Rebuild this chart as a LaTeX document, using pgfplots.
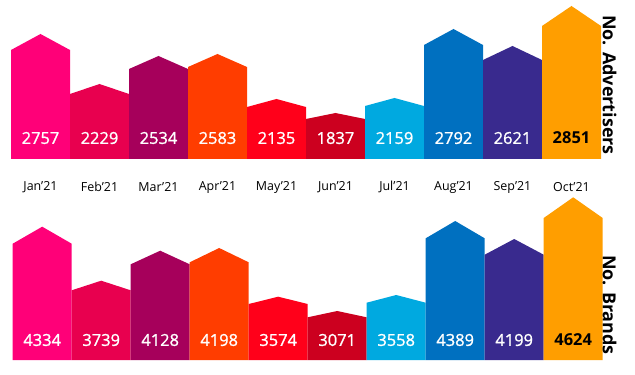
\documentclass[border=0pt]{standalone}
\usepackage{pgfplots}
\pgfplotsset{compat=1.18}
\usepackage{fontspec}
\setmainfont{Open Sans}
\newfontfamily\semifont{Open Sans}[FakeBold=1.2]
\definecolor{cJan}{HTML}{FF0078}
\definecolor{cFeb}{HTML}{E8004F}
\definecolor{cMar}{HTML}{A6005B}
\definecolor{cApr}{HTML}{FF3D00}
\definecolor{cMay}{HTML}{FF001A}
\definecolor{cJun}{HTML}{CC001F}
\definecolor{cJul}{HTML}{00A9E0}
\definecolor{cAug}{HTML}{0070C0}
\definecolor{cSep}{HTML}{392A8E}
\definecolor{cOct}{HTML}{FF9E00}
\pgfplotsset{
  house/.style={fill=#1, draw=none, mark=none},
}
\tikzset{
  vlab/.style={text=white, font=\semifont\fontsize{16.5}{18}\selectfont},
  vlabk/.style={text=black, font=\bfseries\fontsize{16.5}{18}\selectfont},
  mlab/.style={text=black, font=\fontsize{12.5}{14}\selectfont},
}
\begin{document}
\begin{tikzpicture}
\useasboundingbox (0,0) rectangle (635bp,375bp);
% ---------- Advertisers ----------
\begin{axis}[at={(11bp,216bp)}, anchor=south west, scale only axis,
  width=590bp, height=159bp, xmin=-0.5, xmax=9.5, ymin=0, ymax=159,
  hide axis, clip=false]
\addplot[house=cJan] coordinates {(-0.5,0) (-0.5,109) (0,125) (0.5,109) (0.5,0)};
\addplot[house=cFeb] coordinates {(0.5,0) (0.5,65) (1,75) (1.5,65) (1.5,0)};
\addplot[house=cMar] coordinates {(1.5,0) (1.5,90) (2,103) (2.5,90) (2.5,0)};
\addplot[house=cApr] coordinates {(2.5,0) (2.5,92) (3,105) (3.5,92) (3.5,0)};
\addplot[house=cMay] coordinates {(3.5,0) (3.5,52) (4,60) (4.5,52) (4.5,0)};
\addplot[house=cJun] coordinates {(4.5,0) (4.5,40) (5,46) (5.5,40) (5.5,0)};
\addplot[house=cJul] coordinates {(5.5,0) (5.5,53) (6,61) (6.5,53) (6.5,0)};
\addplot[house=cAug] coordinates {(6.5,0) (6.5,114) (7,130) (7.5,114) (7.5,0)};
\addplot[house=cSep] coordinates {(7.5,0) (7.5,99) (8,113) (8.5,99) (8.5,0)};
\addplot[house=cOct] coordinates {(8.5,0) (8.5,133) (9,153) (9.5,133) (9.5,0)};
\node[vlab] at (axis cs:0,21) {2757};
\node[vlab] at (axis cs:1,21) {2229};
\node[vlab] at (axis cs:2,21) {2534};
\node[vlab] at (axis cs:3,21) {2583};
\node[vlab] at (axis cs:4,21) {2135};
\node[vlab] at (axis cs:5,21) {1837};
\node[vlab] at (axis cs:6,21) {2159};
\node[vlab] at (axis cs:7,21) {2792};
\node[vlab] at (axis cs:8,21) {2621};
\node[vlabk] at (axis cs:9,21) {2851};
\node[mlab] at (axis cs:0,-28) {Jan’21};
\node[mlab] at (axis cs:1,-28) {Feb’21};
\node[mlab] at (axis cs:2,-28) {Mar’21};
\node[mlab] at (axis cs:3,-28) {Apr’21};
\node[mlab] at (axis cs:4,-28) {May’21};
\node[mlab] at (axis cs:5,-28) {Jun’21};
\node[mlab] at (axis cs:6,-28) {Jul’21};
\node[mlab] at (axis cs:7,-28) {Aug’21};
\node[mlab] at (axis cs:8,-28) {Sep’21};
\node[mlab] at (axis cs:9,-28) {Oct’21};
\end{axis}
% ---------- Brands ----------
\begin{axis}[at={(12.7bp,15bp)}, anchor=south west, scale only axis,
  width=590bp, height=170bp, xmin=-0.5, xmax=9.5, ymin=0, ymax=170,
  hide axis, clip=false]
\addplot[house=cJan] coordinates {(-0.5,0) (-0.5,116.3) (0,133.3) (0.5,116.3) (0.5,0)};
\addplot[house=cFeb] coordinates {(0.5,0) (0.5,69.7) (1,79.3) (1.5,69.7) (1.5,0)};
\addplot[house=cMar] coordinates {(1.5,0) (1.5,95.7) (2,109.3) (2.5,95.7) (2.5,0)};
\addplot[house=cApr] coordinates {(2.5,0) (2.5,97.7) (3,112) (3.5,97.7) (3.5,0)};
\addplot[house=cMay] coordinates {(3.5,0) (3.5,56) (4,63.3) (4.5,56) (4.5,0)};
\addplot[house=cJun] coordinates {(4.5,0) (4.5,42.7) (5,49) (5.5,42.7) (5.5,0)};
\addplot[house=cJul] coordinates {(5.5,0) (5.5,57.3) (6,65) (6.5,57.3) (6.5,0)};
\addplot[house=cAug] coordinates {(6.5,0) (6.5,121.7) (7,139) (7.5,121.7) (7.5,0)};
\addplot[house=cSep] coordinates {(7.5,0) (7.5,105.3) (8,121) (8.5,105.3) (8.5,0)};
\addplot[house=cOct] coordinates {(8.5,0) (8.5,142) (9,162.7) (9.5,142) (9.5,0)};
\node[vlab] at (axis cs:0,20) {4334};
\node[vlab] at (axis cs:1,20) {3739};
\node[vlab] at (axis cs:2,20) {4128};
\node[vlab] at (axis cs:3,20) {4198};
\node[vlab] at (axis cs:4,20) {3574};
\node[vlab] at (axis cs:5,20) {3071};
\node[vlab] at (axis cs:6,20) {3558};
\node[vlab] at (axis cs:7,20) {4389};
\node[vlab] at (axis cs:8,20) {4199};
\node[vlabk] at (axis cs:9,20) {4624};
\end{axis}
\node[rotate=-90, font=\bfseries\fontsize{18}{20}\selectfont] at (609.5bp,290bp) {No. Advertisers};
\node[rotate=-90, font=\bfseries\fontsize{18}{20}\selectfont] at (609.5bp,70bp) {No. Brands};
\end{tikzpicture}
\end{document}
